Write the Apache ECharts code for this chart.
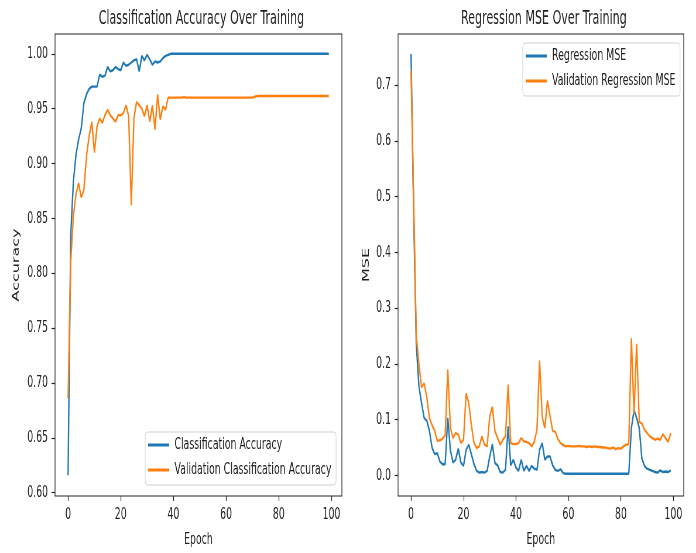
<!DOCTYPE html>
<html>
<head>
<meta charset="utf-8">
<script src="https://cdn.jsdelivr.net/npm/echarts@6/dist/echarts.min.js"></script>
<style>
  html, body { margin: 0; padding: 0; background: #fff; overflow: hidden; }
  #wrap { width: 696px; height: 553px; overflow: hidden; }
  /* the source figure is squeezed sideways, so draw wide and squeeze it the same way */
  #chart { width: 1189px; height: 553px; transform: scaleX(0.58537); transform-origin: 0 0; }
</style>
</head>
<body>
<div id="wrap"><div id="chart"></div></div>
<script>
// epochs 0..99
var epochs = [];
for (var i = 0; i < 100; i++) epochs.push(i);

var epochTicks = [0, 20, 40, 60, 80, 100];
var accTicks = [0.60, 0.65, 0.70, 0.75, 0.80, 0.85, 0.90, 0.95, 1.00];
var mseTicks = [0.0, 0.1, 0.2, 0.3, 0.4, 0.5, 0.6, 0.7];

var accTrain = [
  0.616, 0.834, 0.883, 0.908, 0.922, 0.932, 0.955, 0.963, 0.968, 0.970,
  0.970, 0.970, 0.981, 0.979, 0.980, 0.988, 0.984, 0.985, 0.988, 0.986,
  0.985, 0.992, 0.989, 0.990, 0.992, 0.994, 0.995, 0.984, 0.998, 0.994,
  0.999, 0.995, 0.990, 0.993, 0.992, 0.993, 0.996, 0.998, 0.999, 1.000,
  1.000, 1.000, 1.000, 1.000, 1.000, 1.000, 1.000, 1.000, 1.000, 1.000,
  1.000, 1.000, 1.000, 1.000, 1.000, 1.000, 1.000, 1.000, 1.000, 1.000,
  1.000, 1.000, 1.000, 1.000, 1.000, 1.000, 1.000, 1.000, 1.000, 1.000,
  1.000, 1.000, 1.000, 1.000, 1.000, 1.000, 1.000, 1.000, 1.000, 1.000,
  1.000, 1.000, 1.000, 1.000, 1.000, 1.000, 1.000, 1.000, 1.000, 1.000,
  1.000, 1.000, 1.000, 1.000, 1.000, 1.000, 1.000, 1.000, 1.000, 1.000
];
var accVal = [
  0.686, 0.810, 0.852, 0.872, 0.882, 0.869, 0.876, 0.907, 0.925, 0.938,
  0.910, 0.934, 0.941, 0.937, 0.944, 0.949, 0.944, 0.941, 0.938, 0.944,
  0.944, 0.946, 0.953, 0.943, 0.862, 0.941, 0.956, 0.953, 0.950, 0.943,
  0.953, 0.938, 0.953, 0.931, 0.963, 0.940, 0.952, 0.949, 0.960, 0.960,
  0.960, 0.960, 0.960, 0.960, 0.9605, 0.960, 0.960, 0.960, 0.960, 0.960,
  0.960, 0.960, 0.960, 0.960, 0.960, 0.960, 0.960, 0.960, 0.960, 0.960,
  0.960, 0.960, 0.960, 0.960, 0.960, 0.960, 0.960, 0.960, 0.960, 0.960,
  0.960, 0.961, 0.9615, 0.9615, 0.9615, 0.9615, 0.9615, 0.9615, 0.9615, 0.9615,
  0.9615, 0.9615, 0.9615, 0.9615, 0.9615, 0.9615, 0.9615, 0.9615, 0.9615, 0.9615,
  0.9615, 0.9615, 0.9615, 0.9615, 0.9615, 0.9615, 0.9615, 0.9615, 0.9615, 0.9615
];
var mseTrain = [
  0.756, 0.470, 0.235, 0.160, 0.130, 0.103, 0.098, 0.080, 0.050, 0.038,
  0.040, 0.025, 0.020, 0.020, 0.103, 0.045, 0.023, 0.028, 0.048, 0.023,
  0.017, 0.046, 0.055, 0.038, 0.020, 0.008, 0.005, 0.006, 0.005, 0.008,
  0.034, 0.056, 0.022, 0.018, 0.006, 0.005, 0.010, 0.088, 0.018, 0.028,
  0.014, 0.008, 0.028, 0.008, 0.017, 0.008, 0.017, 0.012, 0.010, 0.046,
  0.058, 0.028, 0.034, 0.034, 0.018, 0.010, 0.008, 0.011, 0.004, 0.003,
  0.003, 0.003, 0.003, 0.003, 0.003, 0.003, 0.003, 0.003, 0.003, 0.003,
  0.003, 0.003, 0.003, 0.003, 0.003, 0.003, 0.003, 0.003, 0.003, 0.003,
  0.003, 0.003, 0.003, 0.003, 0.085, 0.117, 0.103, 0.085, 0.030, 0.017,
  0.012, 0.010, 0.008, 0.006, 0.005, 0.009, 0.006, 0.007, 0.006, 0.009
];
var mseVal = [
  0.726, 0.490, 0.250, 0.200, 0.158, 0.165, 0.140, 0.103, 0.090, 0.080,
  0.062, 0.063, 0.066, 0.072, 0.190, 0.085, 0.067, 0.076, 0.073, 0.058,
  0.064, 0.147, 0.130, 0.090, 0.058, 0.049, 0.052, 0.070, 0.055, 0.052,
  0.106, 0.123, 0.079, 0.067, 0.055, 0.064, 0.070, 0.163, 0.058, 0.056,
  0.056, 0.058, 0.067, 0.061, 0.060, 0.058, 0.052, 0.061, 0.082, 0.206,
  0.105, 0.085, 0.134, 0.106, 0.080, 0.078, 0.065, 0.058, 0.054, 0.052,
  0.053, 0.052, 0.052, 0.052, 0.053, 0.052, 0.052, 0.051, 0.052, 0.051,
  0.052, 0.051, 0.051, 0.050, 0.050, 0.049, 0.048, 0.050, 0.047, 0.049,
  0.048, 0.052, 0.055, 0.056, 0.246, 0.110, 0.236, 0.096, 0.093, 0.082,
  0.076, 0.070, 0.067, 0.064, 0.066, 0.064, 0.074, 0.067, 0.060, 0.076
];

var FONT = 'DejaVu Sans';
var BLUE = '#1f77b4', ORANGE = '#ff7f0e';

function pairs(ys) {
  return epochs.map(function (e, i) { return [e, ys[i]]; });
}

function xAxisFor(idx) {
  return {
    type: 'value', gridIndex: idx, min: -4.95, max: 103.95,
    name: 'Epoch', nameLocation: 'middle', nameGap: 36,
    nameTextStyle: { fontFamily: FONT, fontSize: 16, color: '#222' },
    axisLine: { show: false, onZero: false },
    splitLine: { show: false },
    axisTick: { show: true, customValues: epochTicks, length: 5, lineStyle: { color: '#222', width: 1.2 } },
    axisLabel: { customValues: epochTicks, margin: 11, fontFamily: FONT, fontSize: 16, color: '#222' }
  };
}

function yAxisFor(idx, name, min, max, ticks, digits, gap) {
  return {
    type: 'value', gridIndex: idx, min: min, max: max,
    name: name, nameLocation: 'middle', nameGap: gap,
    nameTextStyle: { fontFamily: FONT, fontSize: 16, color: '#222' },
    axisLine: { show: false, onZero: false },
    splitLine: { show: false },
    axisTick: { show: true, customValues: ticks, length: 6, lineStyle: { color: '#222', width: 1.2 } },
    axisLabel: {
      customValues: ticks, margin: 12, fontFamily: FONT, fontSize: 16, color: '#222',
      formatter: function (v) { return v.toFixed(digits); }
    }
  };
}

function legendFor(left, top, names) {
  return {
    left: left, top: top, orient: 'vertical',
    data: names,
    icon: 'rect', itemWidth: 36, itemHeight: 3, itemGap: 9,
    padding: [5, 8, 7, 5],
    backgroundColor: 'rgba(255,255,255,0.85)',
    borderColor: '#d0d0d0', borderWidth: 1, borderRadius: 4,
    textStyle: { fontFamily: FONT, fontSize: 16, color: '#222', padding: [0, 0, 0, 4] }
  };
}

function line(name, xi, ys, color) {
  return {
    name: name, type: 'line', xAxisIndex: xi, yAxisIndex: xi,
    data: pairs(ys), showSymbol: false, symbol: 'none',
    lineStyle: { color: color, width: 2.4 }, itemStyle: { color: color },
    animation: false
  };
}

var chart = echarts.init(document.getElementById('chart'));
chart.setOption({
  animation: false,
  title: [
    { text: 'Classification Accuracy Over Training', left: 339, top: 5, textAlign: 'center',
      textStyle: { fontFamily: FONT, fontSize: 19, fontWeight: 'normal', color: '#222' } },
    { text: 'Regression MSE Over Training', left: 924, top: 5, textAlign: 'center',
      textStyle: { fontFamily: FONT, fontSize: 19, fontWeight: 'normal', color: '#222' } }
  ],
  grid: [
    { left: 94, top: 34, width: 490, height: 463, show: true, borderColor: '#222', borderWidth: 1.2, backgroundColor: 'transparent' },
    { left: 680, top: 34, width: 488, height: 463, show: true, borderColor: '#222', borderWidth: 1.2, backgroundColor: 'transparent' }
  ],
  xAxis: [xAxisFor(0), xAxisFor(1)],
  yAxis: [
    yAxisFor(0, 'Accuracy', 0.597, 1.018, accTicks, 2, 58),
    yAxisFor(1, 'MSE', -0.037, 0.792, mseTicks, 1, 46)
  ],
  legend: [
    legendFor(248, 432, ['Classification Accuracy', 'Validation Classification Accuracy']),
    legendFor(893, 43, ['Regression MSE', 'Validation Regression MSE'])
  ],
  series: [
    line('Classification Accuracy', 0, accTrain, BLUE),
    line('Validation Classification Accuracy', 0, accVal, ORANGE),
    line('Regression MSE', 1, mseTrain, BLUE),
    line('Validation Regression MSE', 1, mseVal, ORANGE)
  ]
});
</script>
</body>
</html>
